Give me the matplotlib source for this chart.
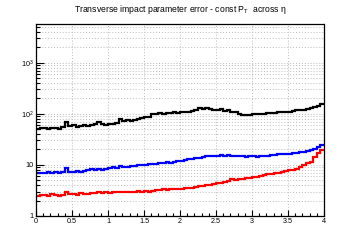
import numpy as np
import matplotlib
matplotlib.use("Agg")
import matplotlib.pyplot as plt
from matplotlib.ticker import FixedLocator, FixedFormatter, MultipleLocator

plt.rcParams['font.family'] = ['Liberation Sans', 'DejaVu Sans']
plt.rcParams['mathtext.fontset'] = 'custom'
plt.rcParams['mathtext.rm'] = 'Liberation Sans'
plt.rcParams['mathtext.it'] = 'Liberation Sans:italic'

# eta bin edges: 80 bins from 0 to 4
eta_min, eta_max, n_bins = 0.0, 4.0, 80

black_vals = [51, 53, 52, 50, 52, 53, 51, 54,
              68,
              57, 59, 56, 58, 60, 57, 59,
              62, 70,
              63, 61, 64, 62,
              66, 78,
              72, 74, 73, 76,
              80, 84, 86, 88,
              97, 100, 103, 101, 104, 103, 106, 105, 108, 107, 110, 112,
              118, 128, 122, 132, 124, 120,
              116, 124, 112, 119, 106, 110,
              98, 96, 95, 96, 97, 98,
              100, 101, 103, 104, 105, 106, 108, 107, 110,
              114, 116, 118, 121, 124, 128, 134, 142, 158]

blue_vals = [6.8, 7.0, 6.9, 7.1, 6.8, 7.2, 7.0, 7.1,
             8.7,
             7.4, 7.3, 7.6, 7.4, 7.5,
             7.9, 8.2, 8.0, 8.4, 8.1, 8.3,
             8.6, 9.0, 8.8, 9.3, 9.0, 9.2, 9.4,
             9.6, 9.9, 10.1, 9.8, 10.2, 10.4, 10.3,
             10.8, 11.0, 11.3, 11.1, 11.5, 11.8, 12.0, 12.4,
             12.8, 13.2, 13.5, 13.8, 14.2,
             14.6, 15.0, 15.2, 14.9, 15.3, 15.1, 15.4, 15.0, 14.8,
             14.6, 14.7, 14.5, 14.6, 14.8, 14.5, 14.7, 14.9, 15.0, 15.3,
             15.7, 16.0, 16.2, 16.4, 16.6, 16.9,
             17.4, 17.8, 18.2, 18.6, 19.2, 20.5, 22.0, 25.0]

red_vals = [2.5, 2.6, 2.6, 2.5, 2.7, 2.6, 2.5, 2.6,
            2.9,
            2.7, 2.7, 2.6, 2.8, 2.7, 2.7, 2.8,
            2.8, 2.9, 2.8, 2.9, 2.8, 2.9, 3.0, 2.9, 2.9,
            3.0, 3.0, 2.9, 3.1, 3.0, 3.1, 3.0, 3.1, 3.2,
            3.2, 3.3, 3.2, 3.3, 3.4, 3.3, 3.4, 3.5, 3.5,
            3.6, 3.7, 3.8, 3.9, 4.0, 4.1,
            4.3, 4.4, 4.5, 4.6, 4.8,
            5.2, 5.0, 5.4, 5.3, 5.6, 5.5, 5.7, 5.8, 6.0,
            6.2, 6.5, 6.6, 6.8, 7.0, 7.2,
            7.5, 7.8, 8.0, 8.4,
            9.2, 10.0, 10.8, 11.5,
            14.0, 17.0, 19.5]

x_ticks = [0, 0.5, 1, 1.5, 2, 2.5, 3, 3.5, 4]
x_tick_labels = ['0', '0.5', '1', '1.5', '2', '2.5', '3', '3.5', '4']
y_ticks = [1, 10, 100, 1000]
y_tick_labels = ['1', '10', r'$10^{2}$', r'$10^{3}$']

title = r'Transverse impact parameter error - const P$_{\mathrm{T}}$  across η'

edges = np.linspace(eta_min, eta_max, n_bins + 1)

fig = plt.figure(figsize=(3.6, 2.4), dpi=100)
ax = fig.add_axes([0.1, 0.1, 0.8, 0.8])

for vals, col in [(black_vals, 'black'), (blue_vals, '#0000ff'), (red_vals, '#ff0000')]:
    ax.stairs(vals, edges, baseline=None, color=col, lw=1.6)

ax.set_yscale('log')
ax.set_xlim(0, 4)
ax.set_ylim(1, 5700)

ax.xaxis.set_major_locator(FixedLocator(x_ticks))
ax.xaxis.set_major_formatter(FixedFormatter(x_tick_labels))
ax.xaxis.set_minor_locator(MultipleLocator(0.1))
ax.yaxis.set_major_locator(FixedLocator(y_ticks))
ax.yaxis.set_major_formatter(FixedFormatter(y_tick_labels))
minor_y = [m * 10 ** d for d in range(0, 4) for m in range(2, 10)]
ax.yaxis.set_minor_locator(FixedLocator(minor_y))
ax.yaxis.set_minor_formatter(FixedFormatter([''] * len(minor_y)))

ax.tick_params(axis='both', which='both', direction='in', top=False, right=False,
               labelsize=5.2, pad=1.5, width=0.8)
ax.tick_params(axis='y', which='major', length=5.5)
ax.tick_params(axis='y', which='minor', length=3)
ax.tick_params(axis='x', which='major', length=4)
ax.tick_params(axis='x', which='minor', length=2)

ax.grid(True, which='major', axis='x', color='#bbbbbb', linestyle=(0, (1, 2)), lw=0.7)
ax.grid(True, which='both', axis='y', color='#bbbbbb', linestyle=(0, (1, 2)), lw=0.7)
ax.set_axisbelow(True)

for s in ['left', 'bottom']:
    ax.spines[s].set_linewidth(0.9)
for s in ['top', 'right']:
    ax.spines[s].set_linestyle((0, (2, 1)))
    ax.spines[s].set_linewidth(0.9)

fig.text(0.5, 1 - 10 / 240, title, ha='center', va='center', fontsize=6.2)

fig.savefig('out.png', dpi=100)
